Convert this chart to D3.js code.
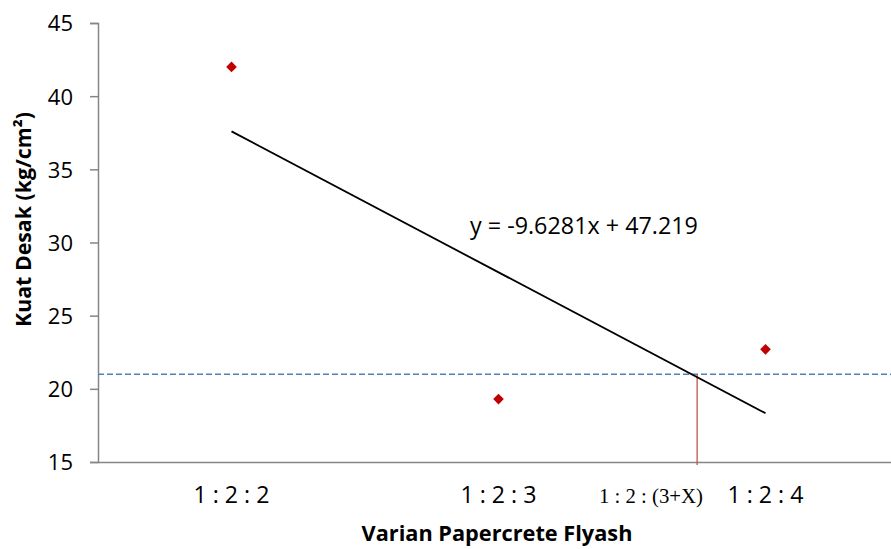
<!DOCTYPE html>
<html><head><meta charset="utf-8">
<script src="https://cdn.jsdelivr.net/npm/d3@7"></script>
<style>body{margin:0;background:#fff}svg{display:block}</style>
</head><body>
<svg id="c" width="891" height="549"></svg>
<script>
const categories = ["1 : 2 : 2", "1 : 2 : 3", "1 : 2 : 4"];
const xValues = [1, 2, 3];
const strength = [42.0, 19.3, 22.7];
const yTicks = [15, 20, 25, 30, 35, 40, 45];
const trendSlope = -9.6281;
const trendIntercept = 47.219;
const trendLabel = "y = -9.6281x + 47.219";
const thresholdY = 21;
const intersectX = 2.744;
const intersectLabel = "1 : 2 : (3+X)";
const yTitle = "Kuat Desak (kg/cm²)";
const xTitle = "Varian Papercrete Flyash";

const svg = d3.select("#c");
const x = d3.scaleLinear().domain([0.5, 3.5]).range([98, 899]);
const y = d3.scaleLinear().domain([15, 45]).range([462, 23]);
const font = "'Open Sans', sans-serif";

// fit text to a target width (matching reference typography)
function fit(sel, w) {
  const n = sel.node(); const cur = n.getComputedTextLength();
  const fs = parseFloat(sel.attr("font-size"));
  sel.attr("font-size", (fs * w / cur).toFixed(2));
}

// y axis
const yAxis = d3.axisLeft(y).tickValues(yTicks).tickSize(8).tickPadding(17);
const gy = svg.append("g").attr("transform", `translate(${x(0.5)},0)`).call(yAxis);
gy.select(".domain").attr("stroke", "#868686").attr("stroke-width", 1.5);
gy.selectAll(".tick line").attr("stroke", "#868686").attr("stroke-width", 1.5);
gy.selectAll(".tick text").attr("font-family", font).attr("font-size", 22).attr("fill", "#000").attr("dy", "0.36em");

// x axis line (no ticks)
const xAxis = d3.axisBottom(x).tickValues([]).tickSizeOuter(0);
const gx = svg.append("g").attr("transform", `translate(0,${y(15)})`).call(xAxis);
gx.select(".domain").attr("stroke", "#868686").attr("stroke-width", 1.5);

// category labels
svg.selectAll("text.cat").data(categories).join("text")
  .attr("class", "cat")
  .attr("x", (d, i) => x(xValues[i])).attr("y", 503)
  .attr("text-anchor", "middle").attr("font-family", font).attr("font-size", 20)
  .text(d => d).each(function(){ fit(d3.select(this), 76); });

// threshold dashed line
svg.append("line")
  .attr("x1", x(0.5)).attr("x2", 891).attr("y1", y(thresholdY)).attr("y2", y(thresholdY))
  .attr("stroke", "#4f81bd").attr("stroke-width", 1.5).attr("stroke-dasharray", "6,3");

// vertical marker
svg.append("line")
  .attr("x1", x(intersectX)).attr("x2", x(intersectX)).attr("y1", y(thresholdY)).attr("y2", y(15) + 3)
  .attr("stroke", "#c0504d").attr("stroke-opacity", 0.85).attr("stroke-width", 1.5);

// trend line
svg.append("line")
  .attr("x1", x(xValues[0])).attr("y1", y(trendSlope * xValues[0] + trendIntercept))
  .attr("x2", x(xValues[2])).attr("y2", y(trendSlope * xValues[2] + trendIntercept))
  .attr("stroke", "#000").attr("stroke-width", 1.8);

// points
svg.selectAll("path.pt").data(strength).join("path")
  .attr("class", "pt")
  .attr("d", d3.symbol(d3.symbolDiamond2, 72))
  .attr("transform", (d, i) => `translate(${x(xValues[i])},${y(d)})`)
  .attr("fill", "#c00000");

// trend equation
const eq = svg.append("text").attr("x", 470).attr("y", 234)
  .attr("font-family", font).attr("font-size", 20).text(trendLabel);
fit(eq, 228);

// intersection label
const il = svg.append("text").attr("x", 599).attr("y", 503)
  .attr("font-family", "'Liberation Serif', 'DejaVu Serif', serif").attr("font-size", 16)
  .text(intersectLabel);
fit(il, 104);

// y title
const yt = svg.append("text").attr("transform", `translate(31,${(112 + 327) / 2}) rotate(-90)`)
  .attr("text-anchor", "middle").attr("font-family", font).attr("font-weight", "bold").attr("font-size", 19)
  .text(yTitle);
fit(yt, 215);

// x title
const xt = svg.append("text").attr("x", 497).attr("y", 541)
  .attr("text-anchor", "middle").attr("font-family", font).attr("font-weight", "bold").attr("font-size", 19)
  .text(xTitle);
fit(xt, 271);
</script>
</body></html>
